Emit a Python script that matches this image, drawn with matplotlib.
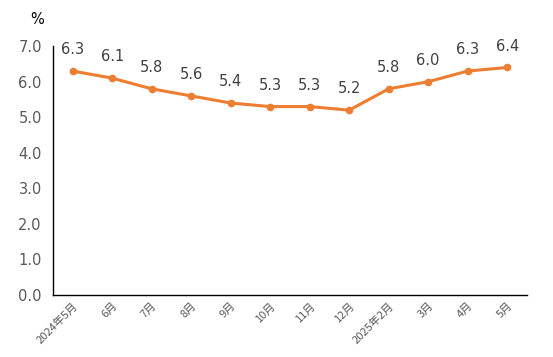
import matplotlib.pyplot as plt

plt.rcParams['font.family'] = ['Noto Sans CJK SC', 'DejaVu Sans']

months = ['2024年5月', '6月', '7月', '8月', '9月', '10月', '11月', '12月',
          '2025年2月', '3月', '4月', '5月']
rates = [6.3, 6.1, 5.8, 5.6, 5.4, 5.3, 5.3, 5.2, 5.8, 6.0, 6.3, 6.4]

fig = plt.figure(figsize=(5.53, 3.57), dpi=100)
ax = fig.add_axes([0.0958, 0.1737, 0.857, 0.697])

x = range(len(months))
ax.plot(x, rates, color='#ED7D31', lw=2.2, marker='o', ms=4.5)
for i, v in zip(x, rates):
    ax.annotate(f'{v:.1f}', (i, v), xytext=(0, 10), textcoords='offset points',
                ha='center', va='bottom', fontsize=10.5, color='#404040',
                family='DejaVu Sans')

ax.set_xlim(-0.5, len(months) - 0.5)
ax.set_ylim(0, 7)
ax.set_yticks([i * 1.0 for i in range(8)])
ax.set_yticklabels([f'{i:.1f}' for i in range(8)], family='DejaVu Sans')
ax.set_xticks(list(x))
ax.set_xticklabels(months, rotation=45, ha='right', rotation_mode='anchor', fontsize=8)
ax.tick_params(axis='both', length=0, colors='#595959')
ax.tick_params(axis='y', labelsize=10.5, pad=8)
ax.tick_params(axis='x', pad=4)
for s in ['top', 'right']:
    ax.spines[s].set_visible(False)
for s in ['left', 'bottom']:
    ax.spines[s].set_color('black')
    ax.spines[s].set_linewidth(1)

fig.text(37 / 553, 1 - 20 / 357, '%', ha='center', va='center', fontsize=10.5,
         color='black', family='DejaVu Sans')

fig.savefig('out.png', dpi=100)
